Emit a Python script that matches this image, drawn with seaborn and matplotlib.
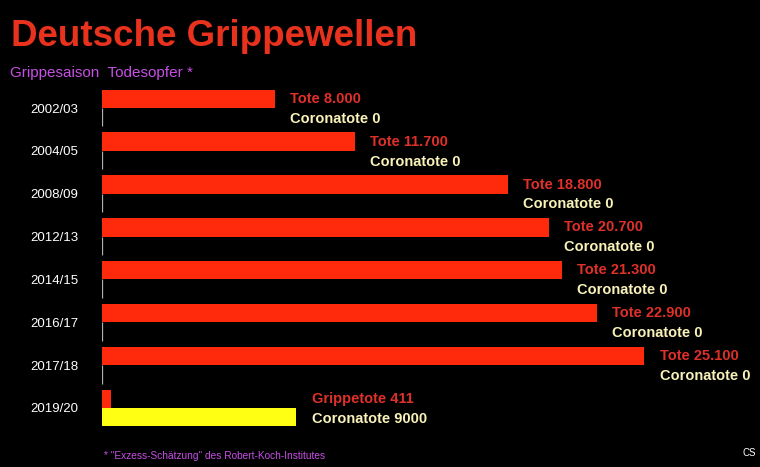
import matplotlib
matplotlib.use("Agg")
import matplotlib.pyplot as plt
import seaborn as sns
import pandas as pd

seasons = ["2002/03", "2004/05", "2008/09", "2012/13", "2014/15", "2016/17", "2017/18", "2019/20"]
tote = [8000, 11700, 18800, 20700, 21300, 22900, 25100, 411]
corona = [0, 0, 0, 0, 0, 0, 0, 9000]
tote_labels = ["Tote 8.000", "Tote 11.700", "Tote 18.800", "Tote 20.700", "Tote 21.300",
               "Tote 22.900", "Tote 25.100", "Grippetote 411"]
corona_labels = ["Coronatote 0"] * 7 + ["Coronatote 9000"]

sns.set_theme(style="white")
plt.rcParams['font.family'] = ['Liberation Sans', 'DejaVu Sans']

df = pd.DataFrame({
    "season": seasons * 2,
    "value": tote + corona,
    "kind": ["Tote"] * len(seasons) + ["Coronatote"] * len(seasons),
})

RED = "#ff2a0c"
YELLOW = "#ffff14"
TXT_RED = "#e0302a"
TXT_YEL = "#f8f2b8"
MAG = "#c84fe6"

fig = plt.figure(figsize=(7.6, 4.67), dpi=100, facecolor="black")
ax = fig.add_axes([0.134, 0.0805, 0.853, 0.734])
ax.set_facecolor("black")

sns.barplot(data=df, y="season", x="value", hue="kind", orient="h",
            hue_order=["Tote", "Coronatote"], palette=[RED, YELLOW],
            width=0.86, saturation=1, legend=False, ax=ax, linewidth=0)

for p in ax.patches:
    if p.get_width() == 0:
        p.set_edgecolor("#b0b0b0")
        p.set_linewidth(0.9)

ax.set_xlim(0, 30000)
ax.set_xlabel("")
ax.set_ylabel("")
ax.set_xticks([])
ax.tick_params(axis="y", length=0, pad=17, labelsize=9.5, labelcolor="white")
for s in ax.spines.values():
    s.set_visible(False)

bw = 0.86 / 2
for i, (t, c, tl, cl) in enumerate(zip(tote, corona, tote_labels, corona_labels)):
    xm = max(t, c)
    ax.annotate(tl, xy=(xm, i - bw / 2), xytext=(11, 0), textcoords="offset points",
                ha="left", va="center", color=TXT_RED, fontsize=10.5, fontweight="bold")
    ax.annotate(cl, xy=(xm, i + bw / 2), xytext=(11, -1), textcoords="offset points",
                ha="left", va="center", color=TXT_YEL, fontsize=10.5, fontweight="bold")

fig.text(0.014, 0.922, "Deutsche Grippewellen", color="#e8321e", fontsize=26.5,
         fontweight="bold", ha="left", va="center")
fig.text(0.013, 0.843, "Grippesaison  Todesopfer *", color=MAG, fontsize=11,
         ha="left", va="center")
fig.text(0.137, 0.024, "* \"Exzess-Schätzung\" des Robert-Koch-Institutes", color=MAG,
         fontsize=7.3, ha="left", va="center")
fig.text(0.977, 0.03, "CS", color="white", fontsize=7, ha="left", va="center")

fig.savefig("out.png", dpi=100, facecolor="black")
